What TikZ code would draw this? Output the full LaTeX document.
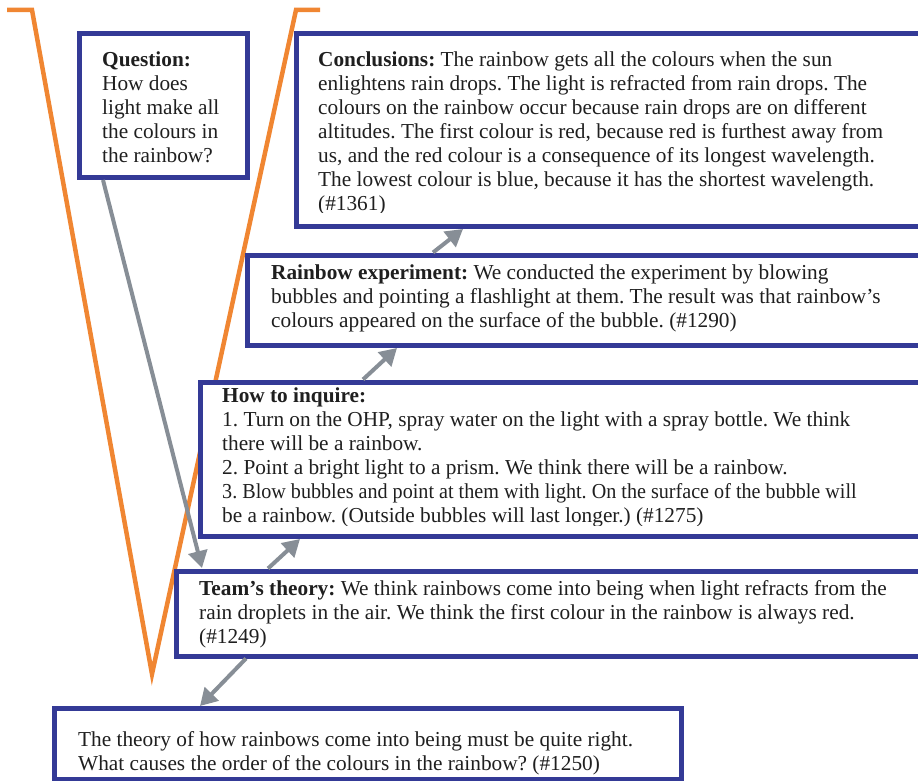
\documentclass[tikz,border=0pt]{standalone}
\usepackage{graphicx}
\usepackage{fontspec}
\setmainfont{Liberation Serif}
\usetikzlibrary{arrows.meta,calc}
\definecolor{vblue}{RGB}{52,58,150}
\definecolor{vorange}{RGB}{240,134,50}
\definecolor{vgrey}{RGB}{135,142,150}
\frenchspacing

\begin{document}
\begin{tikzpicture}[
	         x          = 1pt,
	         y          = -1pt,
	         box/.style = {rectangle, draw = vblue, line width = 5pt, fill = white,
	                       inner sep = 0pt, outer sep = 0pt, anchor = north west},
	         txt/.style = {anchor = north west, inner sep = 0pt, align = left,
	                       text = black!88, font = \fontsize{21.3}{24}\selectfont},
	         link/.style = {draw = vgrey, line width = 4pt,
	                       -{Triangle[length = 17pt, width = 19pt]}}]
	  \useasboundingbox (0,0) rectangle (918,781);
	  \clip (0,0) rectangle (918,781);
	  % the V
	  \draw [vorange, line width = 4.5pt] (7,10) -- (32,10) -- (152,674) -- (296,10) -- (320,10);
	  % boxes
	  \node [box, minimum width = 168pt, minimum height = 144pt]   (q)     at (79.5,33.5) {};
	  \node [box, minimum width = 640pt, minimum height = 192.5pt] (concl) at (296,33.5)  {};
	  \node [box, minimum width = 690pt, minimum height = 90pt]    (exp)   at (247.5,255) {};
	  \node [box, minimum width = 740pt, minimum height = 154pt]   (inq)   at (200,382)   {};
	  \node [box, minimum width = 760pt, minimum height = 85pt]    (team)  at (176,571)   {};
	  \node [box, minimum width = 627pt, minimum height = 71pt]    (open)  at (54,708)    {};
	  % texts
	  \node [txt] (qT) at ($(q.north west)+(22.5,18.5)$)
	    {\textbf{Question:}\\How does\\light make all\\the colours in\\the rainbow?};
	  \begin{scope}
	    \clip (0,0) rectangle (918,212);
	    \node [txt] (conclT) at ($(concl.north west)+(22,18.5)$)
	      {\textbf{Conclusions:} The rainbow gets all the colours when the sun\\
	       enlightens rain drops. The light is refracted from rain drops. The\\
	       colours on the rainbow occur because rain drops are on different\\
	       altitudes. The first colour is red, because red is furthest away from\\
	       us, and the red colour is a consequence of its longest wavelength.\\
	       The lowest colour is blue, because it has the shortest wavelength.\\
	       (\#1361)};
	  \end{scope}
	  \node [txt] (expT) at ($(exp.north west)+(23.5,10)$)
	    {\textbf{Rainbow experiment:} We conducted the experiment by blowing\\
	     bubbles and pointing a flashlight at them. The result was that rainbow’s\\
	     colours appeared on the surface of the bubble. (\#1290)};
	  \begin{scope}
	    \clip (0,0) rectangle (918,525);
	    \node [txt] (inqT) at ($(inq.north west)+(22,6)$)
	      {\textbf{How to inquire:}\\
	       1. Turn on the OHP, spray water on the light with a spray bottle. We think\\
	       there will be a rainbow.\\
	       2. Point a bright light to a prism. We think there will be a rainbow.\\
	       \scalebox{0.945}[1]{3. Blow bubbles and point at them with light. On the surface of the bubble will}\\
	       be a rainbow. (Outside bubbles will last longer.) (\#1275)};
	  \end{scope}
	  \node [txt] (teamT) at ($(team.north west)+(23,9)$)
	    {\textbf{Team’s theory:} We think rainbows come into being when light refracts from the\\
	     rain droplets in the air. We think the first colour in the rainbow is always red.\\
	     (\#1249)};
	  \node [txt] (openT) at ($(open.north west)+(24,23)$)
	    {The theory of how rainbows come into being must be quite right.\\
	     What causes the order of the colours in the rainbow? (\#1250)};
	  % arrows
	  \draw [link] ($(q.south west)+(23.5,2.5)$)      -- ($(team.north west)+(26,-3)$);
	  \draw [link] ($(team.south west)+(70,2.5)$)     -- ($(open.north west)+(146,-2)$);
	  \draw [link] ($(team.north west)+(92,-2.5)$)    -- ($(inq.south west)+(100,3)$);
	  \draw [link] ($(inq.north west)+(163,-2.5)$)    -- ($(exp.south west)+(149.5,3)$);
	  \draw [link] ($(exp.north west)+(185.5,-2.5)$)  -- ($(concl.south west)+(167,3)$);
	\end{tikzpicture}
\end{document}
